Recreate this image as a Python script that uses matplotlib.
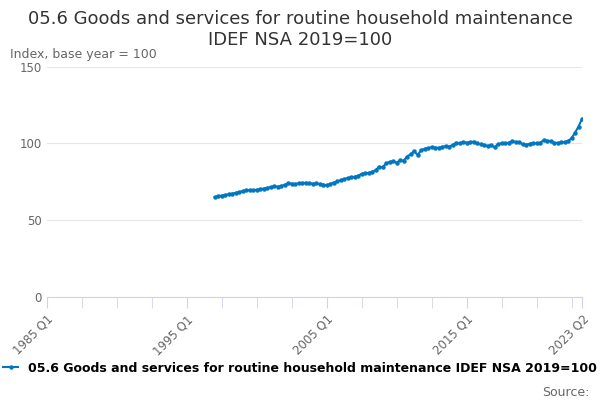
import matplotlib.pyplot as plt

quarters = [f"{y} Q{q}" for y in range(1985, 2024) for q in range(1, 5)][:154]

values_1997 = [
    65.0, 65.6, 66.0, 66.4,   # 1997
    66.8, 67.3, 67.8, 68.3,   # 1998
    68.9, 69.4, 69.7, 69.6,   # 1999
    69.8, 70.2, 70.6, 71.0,   # 2000
    71.6, 72.0, 71.8, 72.3,   # 2001
    73.0, 74.0, 73.8, 73.6,   # 2002
    74.0, 74.2, 74.4, 74.1,   # 2003
    73.8, 74.0, 73.5, 73.2,   # 2004
    72.8, 73.5, 74.5, 75.3,   # 2005
    76.0, 76.8, 77.5, 78.0,   # 2006
    78.3, 79.0, 80.2, 80.5,   # 2007
    80.8, 81.5, 82.5, 84.8,   # 2008
    84.5, 87.0, 88.0, 88.5,   # 2009
    87.5, 89.0, 88.8, 91.5,   # 2010
    93.0, 95.0, 92.5, 95.5,   # 2011
    96.5, 97.0, 97.5, 97.3,   # 2012
    97.2, 97.8, 98.2, 98.0,   # 2013
    99.0, 100.5, 100.0, 101.0,  # 2014
    100.5, 100.8, 101.2, 100.0,  # 2015
    99.5, 99.0, 98.5, 98.8,   # 2016
    97.5, 99.5, 100.2, 100.0,  # 2017
    100.5, 101.5, 101.0, 100.8,  # 2018
    99.5, 99.2, 99.8, 100.3,  # 2019
    100.0, 100.5, 102.0, 101.8,  # 2020
    101.5, 100.5, 100.3, 100.8,  # 2021
    101.0, 101.5, 103.5, 107.0,  # 2022
    111.0, 116.0, 119.0, 123.0,  # 2023
]
start = quarters.index("1997 Q1")
x = list(range(start, start + len(values_1997)))
label = "05.6 Goods and services for routine household maintenance IDEF NSA 2019=100"

fig = plt.figure(figsize=(6, 4), dpi=100)
ax = fig.add_axes([0.078, 0.258, 0.892, 0.575])
ax.plot(x, values_1997, color="#0077c0", lw=1.5, marker="o", ms=2.2)
ax.set_xlim(0, 153)
ax.set_ylim(0, 150)
ax.set_yticks([0, 50, 100, 150])
ax.grid(axis="y", color="#e6e6e6", lw=0.8)
ax.set_axisbelow(True)
for s in ["top", "right", "left"]:
    ax.spines[s].set_visible(False)
ax.spines["bottom"].set_color("#ccd6eb")
ax.tick_params(axis="y", length=0, colors="#666666", labelsize=8.5)
ax.set_xticks(list(range(0, 151, 10)) + [153], minor=True)
ax.set_xticks([0, 40, 80, 120, 153])
ax.set_xticklabels([quarters[i] for i in [0, 40, 80, 120, 153]], rotation=45,
                   ha="right", rotation_mode="anchor")
ax.tick_params(axis="x", which="both", length=8, color="#ccd6eb", colors="#666666", labelsize=8.5)
ax.tick_params(axis="x", which="both", color="#ccd6eb")

fig.text(0.5, 0.975, "05.6 Goods and services for routine household maintenance\nIDEF NSA 2019=100",
         ha="center", va="top", fontsize=13, color="#333333", linespacing=1.2)
fig.text(0.017, 0.855, "Index, base year = 100", fontsize=9, color="#666666")
fig.legend(handles=ax.lines, labels=[label], loc="lower center", bbox_to_anchor=(0.5, 0.035),
           frameon=False, fontsize=9, handlelength=1.2, prop={"weight": "bold", "size": 9})
fig.text(0.982, 0.01, "Source:", ha="right", fontsize=9, color="#666666")
fig.savefig("out.png")
